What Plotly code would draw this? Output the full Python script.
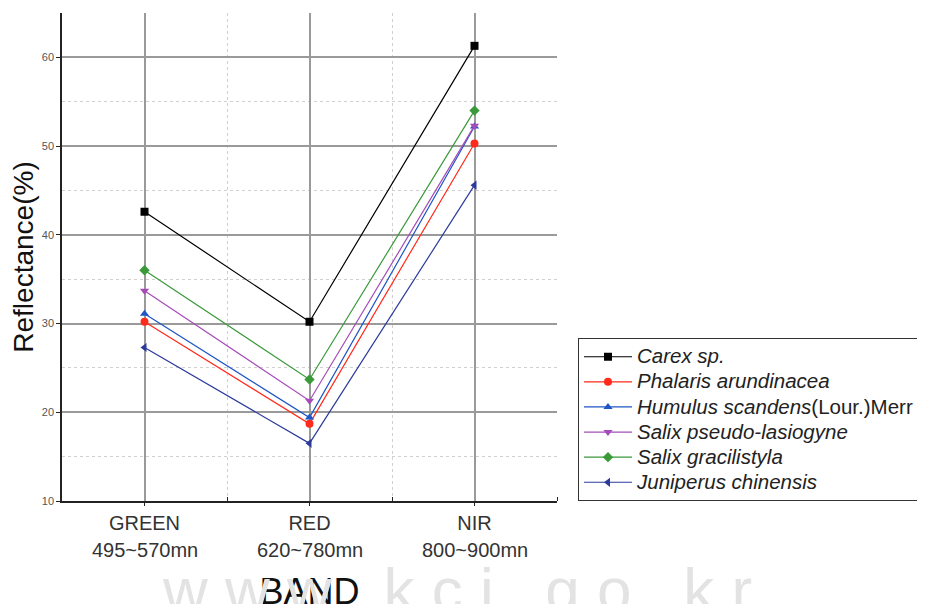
import plotly.graph_objects as go

bands = ["GREEN", "RED", "NIR"]
wavelengths = ["495~570mn", "620~780mn", "800~900mn"]
band_pos = [0, 1, 2]

series_names = [
    "<i>Carex sp.</i>",
    "<i>Phalaris arundinacea</i>",
    "<i>Humulus scandens</i>(Lour.)Merr",
    "<i>Salix pseudo-lasiogyne</i>",
    "<i>Salix gracilistyla</i>",
    "<i>Juniperus chinensis</i>",
]
carex = [42.6, 30.2, 61.3]
phalaris = [30.2, 18.7, 50.3]
humulus = [31.1, 19.4, 52.2]
salix_pseudo = [33.7, 21.3, 52.3]
salix_graci = [36.0, 23.7, 54.0]
juniperus = [27.3, 16.5, 45.6]
series_values = [carex, phalaris, humulus, salix_pseudo, salix_graci, juniperus]

colors = ["#000000", "#FF2A1C", "#1F55C6", "#A54CB8", "#3A9A3A", "#2C3A9C"]
symbols = ["square", "circle", "triangle-up", "triangle-down", "diamond", "triangle-left"]

fig = go.Figure()
for name, vals, c, s in zip(series_names, series_values, colors, symbols):
    fig.add_trace(go.Scatter(
        x=band_pos, y=vals, mode="lines+markers",
        name='<span style="font-size:20.5px">' + name + "</span>",
        line=dict(color=c, width=1.2),
        marker=dict(symbol=s, size=8, color=c),
    ))

font_family = "Liberation Sans, Arial, sans-serif"

# watermark (drawn first so it sits behind the axis title)
fig.add_annotation(x=(160 - 62) / 495, xref="paper", y=(501 - 553) / 488, yref="paper",
                   text="w w w . k c i . g o . k r", showarrow=False,
                   font=dict(size=62, color="#e3e3e3", family=font_family),
                   xanchor="left", yanchor="top")

# page body has an 8px margin, so the figure is placed 8px left/up of the reference
fig.update_layout(
    width=925, height=604,
    margin=dict(l=54, r=376, t=5, b=111, autoexpand=False),
    paper_bgcolor="white", plot_bgcolor="white",
    font=dict(family=font_family, color="#222"),
    showlegend=True,
    legend=dict(
        x=1.042, y=0.334, xanchor="left", yanchor="top",
        bgcolor="white", bordercolor="#333", borderwidth=1.2,
        font=dict(size=17, color="#222", family=font_family),
        itemwidth=48, tracegroupgap=0,
    ),
    xaxis=dict(
        range=[-0.5, 2.5], tickvals=band_pos, ticktext=bands,
        tickfont=dict(size=20, color="#333"),
        showline=True, linecolor="#222", linewidth=1.5,
        ticks="outside", ticklen=3, tickcolor="#222",
        showgrid=True, gridcolor="#9a9a9a", gridwidth=1.5,
        zeroline=False,
        minor=dict(tickvals=[0.5, 1.5, 2.5], showgrid=True, gridcolor="#d0d0d0",
                   griddash="dot", gridwidth=1, ticks="inside", ticklen=4, tickcolor="#222"),
        title=dict(text="BAND", font=dict(size=36, color="#111"), standoff=52),
        automargin=False,
    ),
    yaxis=dict(
        range=[10, 65], dtick=10, tick0=10,
        tickfont=dict(size=11, color="#555"),
        showline=True, linecolor="#222", linewidth=1.5,
        ticks="outside", ticklen=4, tickcolor="#222",
        showgrid=True, gridcolor="#9a9a9a", gridwidth=1.5,
        zeroline=False,
        minor=dict(dtick=5, showgrid=True, gridcolor="#d0d0d0", griddash="dot", gridwidth=1),
        title=dict(text="Reflectance(%)", font=dict(size=28, color="#111"), standoff=1),
        automargin=False,
    ),
)

for xp, wl in zip(band_pos, wavelengths):
    fig.add_annotation(x=xp, xref="x", y=-0.1, yref="paper", text=wl,
                       showarrow=False, font=dict(size=20, color="#333"),
                       xanchor="center", yanchor="middle")

fig.write_html("out.html")
